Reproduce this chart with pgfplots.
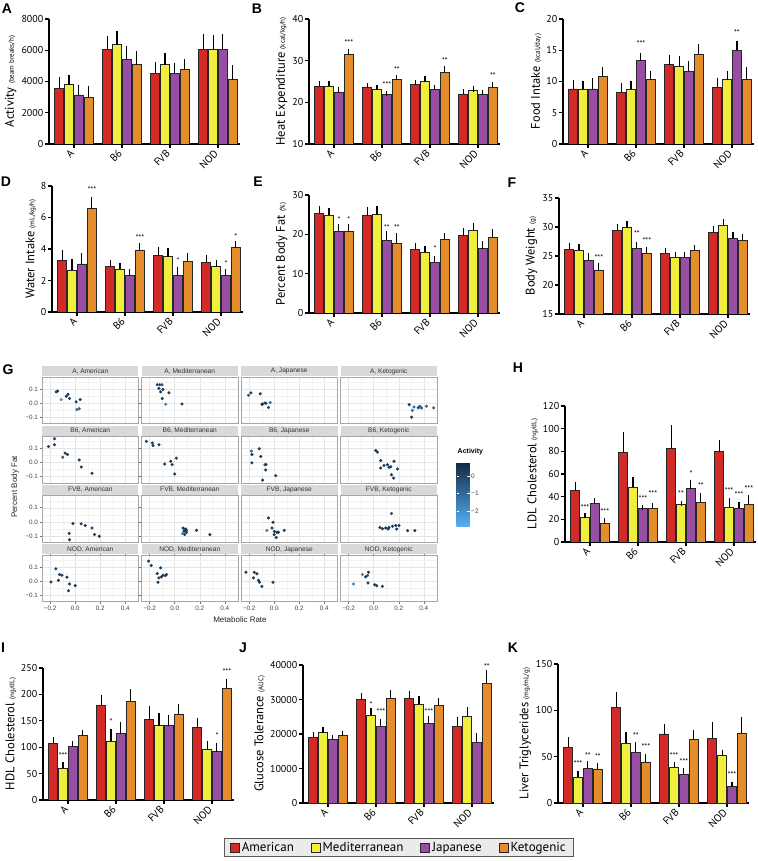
\documentclass[border=0pt]{standalone}
\usepackage{pgfplots}
\pgfplotsset{compat=1.18}
\usepackage{fontspec}
\setmainfont{PT Sans}
\newfontfamily\ggfont{Liberation Sans}
\newfontfamily\letterfont{Liberation Sans}
\definecolor{cAm}{RGB}{211,42,40}
\definecolor{cMe}{RGB}{242,238,62}
\definecolor{cJa}{RGB}{152,78,163}
\definecolor{cKe}{RGB}{229,141,44}
\definecolor{strip}{RGB}{217,217,217}
\newcommand{\rl}[1]{\rotatebox{45}{\fontsize{10.5}{12}\selectfont #1}}

\pgfplotsset{
  bp/.style={scale only axis, width=190.6pt, xmin=-0.52, xmax=3.45,
    axis x line*=bottom, axis y line*=left,
    axis line style={line width=1.6pt, black},
    xtick={0,1,2,3}, xticklabels={\rl{A},\rl{B6},\rl{FVB},\rl{NOD}},
    x tick label style={anchor=north east, inner sep=1pt, xshift=2pt},
    tick align=outside, major tick length=4pt,
    tick style={black, line width=1.3pt},
    yticklabel style={font=\fontsize{10}{12}\selectfont, inner sep=1.5pt},
    ylabel style={font=\fontsize{12.5}{14}\selectfont},
    scaled y ticks=false,
    /pgf/number format/1000 sep={},
    /pgf/number format/assume math mode=true,
    clip mode=individual},
  bb/.style={ybar, bar width=8.5pt, bar shift=0pt, line width=0.8pt, draw=black!85,
    error bars/y dir=plus, error bars/y explicit,
    error bars/error bar style={line width=1.1pt, black},
    error bars/error mark options={mark size=2.6pt, line width=1.1pt, black}},
  Am/.style={bb, fill=cAm}, Me/.style={bb, fill=cMe},
  Ja/.style={bb, fill=cJa}, Ke/.style={bb, fill=cKe},
  facet/.style={scale only axis, width=96.5pt, height=46.5pt,
    xmin=-0.265, xmax=0.505, ymin=-0.143, ymax=0.186,
    xtick={-0.2,0,0.2,0.4}, ytick={-0.1,0,0.1},
    minor xtick={-0.1,0.1,0.3}, minor ytick={-0.05,0.05,0.15},
    grid=both, major grid style={black!10, line width=0.45pt},
    minor grid style={black!5, line width=0.3pt},
    axis line style={black!35, line width=0.5pt},
    xticklabels={}, yticklabels={},
    tick style={draw=none}, major tick length=2.5pt, minor tick length=0pt, tick align=outside,
    ticklabel style={font=\ggfont\fontsize{6.3}{7}\selectfont, text=black!75, inner sep=1.5pt},
    clip=false,
    colormap={act}{rgb255(0cm)=(86,177,247); rgb255(1cm)=(19,43,67)},
    point meta min=-2.9, point meta max=0.75},
  dots/.style={scatter, only marks, mark=*, mark size=1.35pt, point meta=explicit,
    scatter/use mapped color={draw=mapped color, fill=mapped color}},
}
\newcommand{\facet}[5]{%
  \begin{axis}[facet, at={(#1pt,#2pt)}, #4]
    \addplot[dots] coordinates {#5};
    \fill[strip] ([yshift=0.6pt]rel axis cs:0,1) rectangle ([yshift=10.6pt]rel axis cs:1,1);
    \node[font=\ggfont\fontsize{6.6}{7}\selectfont, text=black!80] at ([yshift=5.6pt]rel axis cs:0.5,1) {#3};
  \end{axis}}
\tikzset{st/.style={font=\fontsize{8}{8}\selectfont, inner sep=0pt}}

\begin{document}
\begin{tikzpicture}
\useasboundingbox (0,0) rectangle (757pt,861pt);

% ---- A: activity
\begin{axis}[bp, at={(49pt,717pt)}, height=125pt, ymin=0, ymax=8000, ytick={0,2000,...,8000},
  ylabel={Activity {\fontsize{7}{8}\selectfont(beam breaks/h)}}]
\addplot[Am] coordinates {(-0.31,3570) +- (0,530) (0.69,6030) +- (0,690) (1.69,4530) +- (0,580) (2.69,6070) +- (0,820)};
\addplot[Me] coordinates {(-0.103,3790) +- (0,490) (0.897,6350) +- (0,690) (1.897,5070) +- (0,580) (2.897,6030) +- (0,750)};
\addplot[Ja] coordinates {(0.103,3140) +- (0,500) (1.103,5390) +- (0,710) (2.103,4490) +- (0,510) (3.103,6070) +- (0,820)};
\addplot[Ke] coordinates {(0.31,2990) +- (0,580) (1.31,5070) +- (0,710) (2.31,4750) +- (0,530) (3.31,4110) +- (0,790)};
\end{axis}

% ---- B: heat expenditure
\begin{axis}[bp, at={(309pt,717pt)}, height=125pt, ymin=10, ymax=40, ytick={10,20,30,40},
  ylabel={Heat Expenditure {\fontsize{7}{8}\selectfont(kcal/kg/h)}}]
\addplot[Am] coordinates {(-0.31,23.8) +- (0,0.8) (0.69,23.6) +- (0,0.4) (1.69,24.2) +- (0,0.6) (2.69,22.0) +- (0,0.6)};
\addplot[Me] coordinates {(-0.103,23.9) +- (0,0.7) (0.897,23.1) +- (0,0.4) (1.897,25.0) +- (0,0.6) (2.897,22.8) +- (0,0.4)};
\addplot[Ja] coordinates {(0.103,22.3) +- (0,0.8) (1.103,21.8) +- (0,0.4) (2.103,23.0) +- (0,0.6) (3.103,22.0) +- (0,0.4)};
\addplot[Ke] coordinates {(0.31,31.4) +- (0,0.8) (1.31,25.4) +- (0,0.6) (2.31,27.2) +- (0,0.8) (3.31,23.6) +- (0,0.6)};
\node[st] at (axis cs:0.31,34.4) {***};
\node[st] at (axis cs:1.103,24.3) {***};
\node[st] at (axis cs:1.31,27.8) {**};
\node[st] at (axis cs:2.31,30.0) {**};
\node[st] at (axis cs:3.31,26.4) {**};
\end{axis}

% ---- C: food intake
\begin{axis}[bp, at={(563pt,717pt)}, height=125pt, ymin=0, ymax=20, ytick={0,5,...,20},
  ylabel={Food Intake {\fontsize{7}{8}\selectfont(kcal/day)}}]
\addplot[Am] coordinates {(-0.31,8.8) +- (0,1.0) (0.69,8.3) +- (0,1.0) (1.69,12.7) +- (0,1.2) (2.69,9.1) +- (0,1.1)};
\addplot[Me] coordinates {(-0.103,8.8) +- (0,0.9) (0.897,8.8) +- (0,0.9) (1.897,12.4) +- (0,1.2) (2.897,10.3) +- (0,0.9)};
\addplot[Ja] coordinates {(0.103,8.8) +- (0,1.3) (1.103,13.3) +- (0,0.8) (2.103,11.6) +- (0,1.2) (3.103,15.0) +- (0,1.1)};
\addplot[Ke] coordinates {(0.31,10.8) +- (0,1.1) (1.31,10.3) +- (0,0.9) (2.31,14.4) +- (0,1.2) (3.31,10.3) +- (0,1.6)};
\node[st] at (axis cs:1.103,16.1) {***};
\node[st] at (axis cs:3.103,17.8) {**};
\end{axis}

% ---- D: water intake
\begin{axis}[bp, at={(52pt,549pt)}, height=126pt, ymin=0, ymax=8, ytick={0,2,...,8},
  ylabel={Water Intake {\fontsize{7}{8}\selectfont(mL/kg/h)}}]
\addplot[Am] coordinates {(-0.31,3.26) +- (0,0.53) (0.69,2.9) +- (0,0.26) (1.69,3.58) +- (0,0.36) (2.69,3.16) +- (0,0.27)};
\addplot[Me] coordinates {(-0.103,2.67) +- (0,0.53) (0.897,2.73) +- (0,0.21) (1.897,3.52) +- (0,0.38) (2.897,2.88) +- (0,0.28)};
\addplot[Ja] coordinates {(0.103,3.05) +- (0,0.53) (1.103,2.31) +- (0,0.25) (2.103,2.31) +- (0,0.36) (3.103,2.31) +- (0,0.27)};
\addplot[Ke] coordinates {(0.31,6.55) +- (0,0.57) (1.31,3.94) +- (0,0.28) (2.31,3.22) +- (0,0.36) (3.31,4.07) +- (0,0.25)};
\node[st] at (axis cs:0.31,7.75) {***};
\node[st] at (axis cs:1.31,4.7) {***};
\node[st] at (axis cs:2.103,3.26) {*};
\node[st] at (axis cs:3.103,3.1) {*};
\node[st] at (axis cs:3.31,4.8) {*};
\end{axis}

% ---- E: percent body fat
\begin{axis}[bp, at={(309pt,548pt)}, height=118pt, ymin=0, ymax=30, ytick={0,10,20,30},
  ylabel={Percent Body Fat {\fontsize{7}{8}\selectfont(\%)}}]
\addplot[Am] coordinates {(-0.31,25.3) +- (0,1.3) (0.69,24.7) +- (0,1.5) (1.69,16.2) +- (0,0.9) (2.69,19.7) +- (0,1.2)};
\addplot[Me] coordinates {(-0.103,24.8) +- (0,1.2) (0.897,25.0) +- (0,1.6) (1.897,15.4) +- (0,0.9) (2.897,21.0) +- (0,1.3)};
\addplot[Ja] coordinates {(0.103,20.8) +- (0,1.2) (1.103,18.5) +- (0,1.7) (2.103,12.9) +- (0,0.9) (3.103,16.3) +- (0,1.3)};
\addplot[Ke] coordinates {(0.31,20.7) +- (0,1.3) (1.31,17.8) +- (0,1.8) (2.31,18.7) +- (0,0.9) (3.31,19.2) +- (0,1.4)};
\node[st] at (axis cs:0.103,23.8) {*};
\node[st] at (axis cs:0.31,23.8) {*};
\node[st] at (axis cs:1.103,21.6) {**};
\node[st] at (axis cs:1.31,21.6) {**};
\node[st] at (axis cs:2.103,16.3) {*};
\end{axis}

% ---- F: body weight
\begin{axis}[bp, at={(559pt,547pt)}, height=116pt, ymin=15, ymax=35, ytick={15,20,...,35},
  ylabel={Body Weight {\fontsize{7}{8}\selectfont(g)}}]
\addplot[Am] coordinates {(-0.31,26.1) +- (0,0.7) (0.69,29.4) +- (0,0.7) (1.69,25.5) +- (0,0.5) (2.69,29.1) +- (0,0.6)};
\addplot[Me] coordinates {(-0.103,26.0) +- (0,0.7) (0.897,29.9) +- (0,0.7) (1.897,24.8) +- (0,0.5) (2.897,30.3) +- (0,0.6)};
\addplot[Ja] coordinates {(0.103,24.3) +- (0,0.7) (1.103,26.3) +- (0,0.7) (2.103,24.8) +- (0,0.5) (3.103,28.1) +- (0,0.6)};
\addplot[Ke] coordinates {(0.31,22.6) +- (0,0.7) (1.31,25.4) +- (0,0.7) (2.31,25.9) +- (0,0.6) (3.31,27.7) +- (0,0.6)};
\node[st] at (axis cs:0.31,24.7) {***};
\node[st] at (axis cs:1.103,28.9) {**};
\node[st] at (axis cs:1.31,27.7) {***};
\end{axis}

% ---- G: facets
\facet{42}{437.5}{A, American}{yticklabels={−0.1,0.0,0.1}, ytick style={draw=black!55, line width=0.5pt}}{(-0.152,0.081) [0.3] (-0.141,0.086) [0.3] (-0.112,0.026) [-2] (-0.072,0.05) [0.3] (-0.058,0.064) [0.3] (-0.046,0.034) [0.3] (0.008,0.01) [0.3] (0.04,0.026) [0.3] (0.013,-0.045) [-1] (0.032,-0.038) [-0.8]}
\facet{141.5}{437.5}{A, Mediterranean}{}{(-0.139,0.131) [0] (-0.12,0.131) [0] (-0.102,0.131) [-0.5] (-0.126,0.105) [0.3] (-0.094,0.098) [0.3] (-0.112,0.081) [0.3] (-0.046,0.074) [0.3] (-0.099,0.034) [0.3] (-0.072,-0.007) [-1.8] (0.058,-0.005) [0.3]}
\facet{241}{437.5}{A, Japanese}{}{(-0.205,0.057) [-0.5] (-0.186,0.074) [0.3] (-0.112,0.067) [0.3] (-0.094,-0.005) [0.3] (-0.074,0.002) [0.3] (-0.066,0) [0] (-0.098,-0.007) [0.3] (-0.032,0.005) [-1.2] (-0.046,-0.03) [0.3]}
\facet{340.5}{437.5}{A, Ketogenic}{}{(0.283,-0.01) [0.3] (0.309,-0.05) [-1] (0.322,-0.026) [-0.8] (0.354,-0.033) [-0.5] (0.362,-0.026) [0.3] (0.37,-0.021) [-1] (0.381,-0.033) [-0.8] (0.421,-0.021) [-1] (0.478,-0.033) [-0.8] (0.302,-0.098) [0.3]}

\facet{42}{378.2}{B6, American}{yticklabels={−0.1,0.0,0.1}, ytick style={draw=black!55, line width=0.5pt}}{(-0.213,0.114) [0.3] (-0.165,0.169) [0.3] (-0.165,0.126) [0.3] (-0.099,0.038) [-0.5] (-0.08,0.067) [0.3] (-0.061,0.057) [0.3] (0.032,0.019) [0.3] (0.048,-0.031) [0.3] (0.134,-0.076) [0.3]}
\facet{141.5}{378.2}{B6, Mediterranean}{}{(-0.227,0.15) [0.3] (-0.179,0.138) [0.3] (-0.173,0.121) [0.3] (-0.126,0.126) [0.3] (-0.08,-0.01) [0.3] (-0.032,0.009) [0.3] (-0.021,-0.014) [0.3] (0.013,0.031) [0.3] (0,-0.081) [0.3]}
\facet{241}{378.2}{B6, Japanese}{}{(-0.182,0.081) [-0.8] (-0.178,0.057) [0.3] (-0.12,0.098) [0.3] (-0.107,0.043) [0.3] (-0.178,-0.002) [0.3] (-0.074,-0.016) [-0.5] (-0.066,-0.014) [0.3] (-0.068,-0.052) [0.3] (-0.093,-0.124) [0.3] (0.013,-0.093) [0.3]}
\facet{340.5}{378.2}{B6, Ketogenic}{colorbar, colorbar style={at={(parent axis.north east)}, anchor=north west, xshift=11pt, yshift=-26.7pt, scale only axis, width=13pt, height=64pt, ytick={-2,-1,0}, yticklabels={−2,−1,0}, yticklabel style={font=\ggfont\fontsize{6.5}{7}\selectfont, text=black!75}, major tick length=2.5pt, tick align=inside, tick style={draw=white, line width=0.5pt}, axis line style={draw=none}, title={Activity}, title style={font=\ggfont\bfseries\fontsize{7}{8}\selectfont, at={(0,1)}, anchor=south west, xshift=-1pt, inner sep=2pt}}}{(0.016,0.086) [0.3] (0.029,0.074) [0.3] (0.056,0.014) [0.3] (0.082,-0.021) [0.3] (0.11,-0.016) [0.3] (0.136,-0.029) [0.3] (0.162,0.009) [0.3] (0.19,-0.045) [0.3] (0.142,-0.086) [0.3] (0.158,-0.11) [0.3] (0.056,-0.038) [0.3] (0.122,-0.033) [0.3]}

\facet{42}{318.9}{FVB, American}{yticklabels={−0.1,0.0,0.1}, ytick style={draw=black!55, line width=0.5pt}}{(-0.018,-0.012) [0.3] (0.048,-0.014) [0.3] (0.08,-0.026) [0.3] (0.134,-0.043) [0.3] (0.154,-0.09) [0.3] (0.192,-0.102) [0.3] (-0.048,-0.081) [0.3] (-0.046,-0.126) [0.3]}
\facet{141.5}{318.9}{FVB, Mediterranean}{}{(0.066,-0.043) [0.3] (0.08,-0.055) [0.3] (0.094,-0.06) [0.3] (0.074,-0.067) [0.3] (0.094,-0.074) [0.3] (0.062,-0.083) [-1.8] (0.08,-0.09) [0.3] (0.174,-0.06) [0.3] (0.28,-0.09) [0.3] (0.088,-0.05) [0.3]}
\facet{241}{318.9}{FVB, Japanese}{}{(-0.046,0.028) [0.3] (-0.01,-0.003) [0.3] (-0.018,-0.043) [0.3] (-0.058,-0.06) [-1.5] (0.002,-0.067) [0.3] (0.022,-0.074) [0.3] (0.034,-0.074) [0.3] (0.08,-0.06) [0.3] (0,-0.09) [0.3] (0.016,-0.11) [0.3]}
\facet{340.5}{318.9}{FVB, Ketogenic}{}{(0.142,0.059) [0] (0.05,-0.039) [0.3] (0.07,-0.048) [0.3] (0.096,-0.043) [0.3] (0.122,-0.039) [0.3] (0.15,-0.031) [0.3] (0.176,-0.026) [0.3] (0.202,-0.026) [0.3] (0.184,-0.05) [0.3] (0.27,-0.062) [0.3] (0.328,-0.062) [0.3] (0.114,-0.05) [0.3]}

\facet{42}{259.5}{NOD, American}{yticklabels={−0.1,0.0,0.1}, ytick style={draw=black!55, line width=0.5pt}, xticklabels={−0.2,0.0,0.2,0.4}, xtick style={draw=black!55, line width=0.5pt}}{(-0.154,0.088) [0.3] (-0.126,0.048) [0.3] (-0.106,0.043) [0.3] (-0.066,0.029) [0.3] (-0.194,-0.005) [0.3] (-0.134,0.007) [0.3] (-0.046,-0.019) [0.3] (0,-0.031) [0.3] (-0.054,-0.067) [0.3]}
\facet{141.5}{259.5}{NOD, Mediterranean}{xticklabels={−0.2,0.0,0.2,0.4}, xtick style={draw=black!55, line width=0.5pt}}{(-0.208,0.143) [0.3] (-0.187,0.112) [0.3] (-0.112,0.095) [0.3] (-0.139,0.055) [0.3] (-0.107,0.031) [0.3] (-0.094,0.043) [0.3] (-0.074,0.04) [0.3] (-0.066,0.048) [0.3] (-0.126,0.024) [0.3] (-0.134,-0.007) [0.3]}
\facet{241}{259.5}{NOD, Japanese}{xticklabels={−0.2,0.0,0.2,0.4}, xtick style={draw=black!55, line width=0.5pt}}{(-0.226,0.064) [0.3] (-0.16,0.064) [0.3] (-0.138,0.053) [0.3] (-0.166,0.024) [0.3] (-0.126,0.007) [0.3] (-0.118,-0.007) [0.3] (-0.098,-0.036) [0.3] (-0.01,-0.007) [0.3]}
\facet{340.5}{259.5}{NOD, Ketogenic}{xticklabels={−0.2,0.0,0.2,0.4}, xtick style={draw=black!55, line width=0.5pt}}{(-0.162,-0.019) [-1.8] (-0.09,0.048) [-1.5] (-0.064,0.031) [0.3] (-0.05,0.041) [-0.5] (-0.042,0.064) [0.3] (-0.046,-0.012) [0.3] (0.008,-0.024) [0.3] (0.024,-0.031) [0.3] (0.07,-0.036) [0.3]}

\node[rotate=90, font=\ggfont\fontsize{8}{9}\selectfont, text=black!85] at (15pt,374pt) {Percent Body Fat};
\node[font=\ggfont\fontsize{8}{9}\selectfont, text=black!85] at (240pt,241pt) {Metabolic Rate};

% ---- H: LDL
\begin{axis}[bp, at={(565pt,319pt)}, height=136pt, ymin=0, ymax=120, ytick={0,20,...,120},
  ylabel={LDL Cholesterol {\fontsize{7}{8}\selectfont(ng/dL)}}]
\addplot[Am] coordinates {(-0.31,45.4) +- (0,4.9) (0.69,79) +- (0,15.8) (1.69,82.5) +- (0,18.2) (2.69,79.6) +- (0,7.9)};
\addplot[Me] coordinates {(-0.103,22) +- (0,1.1) (0.897,48.3) +- (0,7) (1.897,33.1) +- (0,1.1) (2.897,30.7) +- (0,5.6)};
\addplot[Ja] coordinates {(0.103,34.2) +- (0,2.4) (1.103,29.3) +- (0,1.4) (2.103,47.1) +- (0,5.6) (3.103,29.9) +- (0,3.5)};
\addplot[Ke] coordinates {(0.31,16.7) +- (0,2.3) (1.31,29.6) +- (0,2.6) (2.31,35.1) +- (0,5.6) (3.31,33.1) +- (0,6.1)};
\node[st] at (axis cs:-0.103,30.7) {***};
\node[st] at (axis cs:0.31,27.2) {***};
\node[st] at (axis cs:1.103,38.6) {***};
\node[st] at (axis cs:1.31,42.4) {***};
\node[st] at (axis cs:1.897,42.4) {**};
\node[st] at (axis cs:2.103,60.6) {*};
\node[st] at (axis cs:2.31,50) {**};
\node[st] at (axis cs:2.897,45.4) {***};
\node[st] at (axis cs:3.103,41.6) {***};
\node[st] at (axis cs:3.31,47.4) {***};
\end{axis}

% ---- I: HDL
\begin{axis}[bp, at={(43pt,61pt)}, height=132pt, ymin=0, ymax=250, ytick={0,50,...,250},
  ylabel={HDL Cholesterol {\fontsize{7}{8}\selectfont(ng/dL)}}]
\addplot[Am] coordinates {(-0.31,107.6) +- (0,6.4) (0.69,178.5) +- (0,14.5) (1.69,152) +- (0,20.8) (2.69,136.7) +- (0,13.9)};
\addplot[Me] coordinates {(-0.103,60) +- (0,6.5) (0.897,110.8) +- (0,18.9) (1.897,140.5) +- (0,19.5) (2.897,96.2) +- (0,11.4)};
\addplot[Ja] coordinates {(0.103,101) +- (0,6.6) (1.103,125.3) +- (0,18.4) (2.103,141) +- (0,16) (3.103,91.8) +- (0,11.4)};
\addplot[Ke] coordinates {(0.31,122) +- (0,6.5) (1.31,187.3) +- (0,17.1) (2.31,163) +- (0,14) (3.31,211.4) +- (0,12)};
\node[st] at (axis cs:-0.103,84.2) {***};
\node[st] at (axis cs:0.897,148.7) {*};
\node[st] at (axis cs:3.103,121.5) {*};
\node[st] at (axis cs:3.31,243.7) {***};
\end{axis}

% ---- J: glucose tolerance (+ legend)
\begin{axis}[bp, at={(303pt,58pt)}, height=138pt, ymin=0, ymax=40000, ytick={0,10000,...,40000},
  ylabel={Glucose Tolerance {\fontsize{7}{8}\selectfont(AUC)}},
  legend style={at={(0.503,-0.322)}, anchor=center, legend columns=4, fill=black!8, draw=black!65,
    line width=0.6pt, font=\fontsize{13}{15}\selectfont, inner xsep=6pt, inner ysep=1.5pt,
    /tikz/every even column/.append style={column sep=15pt}}]
\addlegendimage{legend image code/.code={\draw[fill=cAm, draw=black!85, line width=0.8pt] (0pt,-4.5pt) rectangle (9pt,4.5pt);}}
\addlegendentry{American}
\addlegendimage{legend image code/.code={\draw[fill=cMe, draw=black!85, line width=0.8pt] (0pt,-4.5pt) rectangle (9pt,4.5pt);}}
\addlegendentry{Mediterranean}
\addlegendimage{legend image code/.code={\draw[fill=cJa, draw=black!85, line width=0.8pt] (0pt,-4.5pt) rectangle (9pt,4.5pt);}}
\addlegendentry{Japanese}
\addlegendimage{legend image code/.code={\draw[fill=cKe, draw=black!85, line width=0.8pt] (0pt,-4.5pt) rectangle (9pt,4.5pt);}}
\addlegendentry{Ketogenic}
\addplot[Am, forget plot] coordinates {(-0.31,19000) +- (0,800) (0.69,29900) +- (0,1300) (1.69,30200) +- (0,1400) (2.69,22200) +- (0,2100)};
\addplot[Me, forget plot] coordinates {(-0.103,20400) +- (0,800) (0.897,25500) +- (0,1300) (1.897,28700) +- (0,1700) (2.897,25100) +- (0,1900)};
\addplot[Ja, forget plot] coordinates {(0.103,18300) +- (0,700) (1.103,22200) +- (0,1300) (2.103,23100) +- (0,1500) (3.103,17600) +- (0,2000)};
\addplot[Ke, forget plot] coordinates {(0.31,19500) +- (0,700) (1.31,30400) +- (0,1600) (2.31,28400) +- (0,1300) (3.31,34700) +- (0,3100)};
\node[st] at (axis cs:0.897,28400) {*};
\node[st] at (axis cs:1.103,26500) {***};
\node[st] at (axis cs:2.103,26500) {***};
\node[st] at (axis cs:3.31,39500) {**};
\end{axis}

% ---- K: liver triglycerides
\begin{axis}[bp, at={(558pt,58pt)}, height=139pt, ymin=0, ymax=150, ytick={0,50,100,150},
  ylabel={Liver Triglycerides {\fontsize{7}{8}\selectfont(mg/mL/g)}}]
\addplot[Am] coordinates {(-0.31,60.3) +- (0,8) (0.69,102.8) +- (0,14.5) (1.69,74.5) +- (0,7.6) (2.69,69.7) +- (0,14.9)};
\addplot[Me] coordinates {(-0.103,27.6) +- (0,4.4) (0.897,64.7) +- (0,9) (1.897,38.5) +- (0,3.3) (2.897,51.2) +- (0,3.6)};
\addplot[Ja] coordinates {(0.103,37.4) +- (0,5.5) (1.103,54.8) +- (0,8) (2.103,30.9) +- (0,3.6) (3.103,17.4) +- (0,2.2)};
\addplot[Ke] coordinates {(0.31,36.7) +- (0,3.6) (1.31,44.3) +- (0,5.8) (2.31,68.3) +- (0,7.3) (3.31,75.6) +- (0,14.5)};
\node[st] at (axis cs:-0.103,42.1) {***};
\node[st] at (axis cs:0.103,51.2) {**};
\node[st] at (axis cs:0.31,50.1) {**};
\node[st] at (axis cs:1.103,72.6) {**};
\node[st] at (axis cs:1.31,61) {***};
\node[st] at (axis cs:1.897,51.2) {***};
\node[st] at (axis cs:2.103,44.3) {***};
\node[st] at (axis cs:3.103,30.5) {***};
\end{axis}

% ---- panel letters
\begin{scope}[every node/.style={font=\letterfont\bfseries\fontsize{14}{16}\selectfont}]
\node at (7pt,852pt) {A};
\node at (257pt,852pt) {B};
\node at (520pt,853pt) {C};
\node at (6pt,679pt) {D};
\node at (258pt,679pt) {E};
\node at (512pt,678pt) {F};
\node at (8pt,491pt) {G};
\node at (518pt,493pt) {H};
\node at (3pt,213pt) {I};
\node at (243pt,213pt) {J};
\node at (513pt,213pt) {K};
\end{scope}
\end{tikzpicture}
\end{document}
